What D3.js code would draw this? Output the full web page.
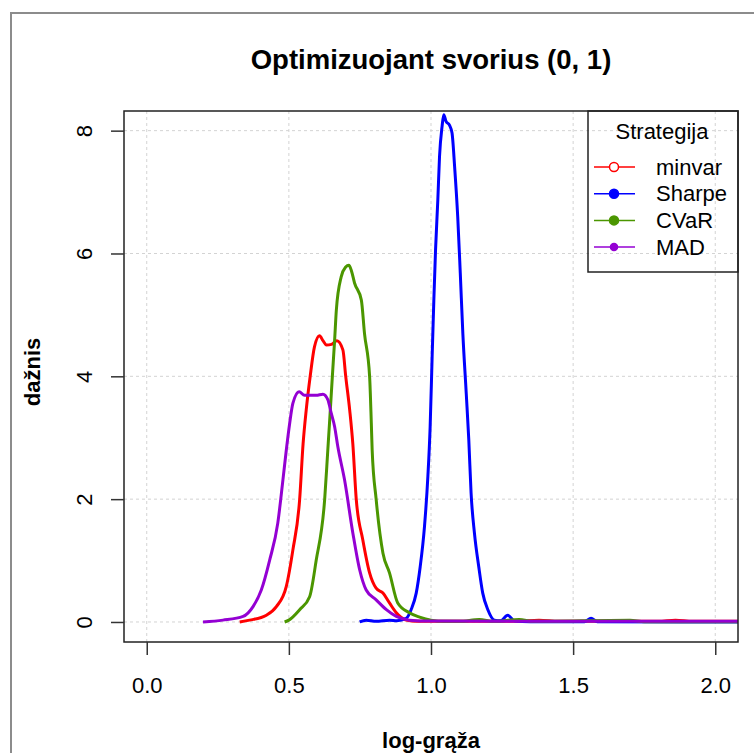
<!DOCTYPE html>
<html>
<head>
<meta charset="utf-8">
<script src="https://cdn.jsdelivr.net/npm/d3@7"></script>
<style>
  body { margin: 0; background: #fff; }
  svg { font-family: "Liberation Sans", Arial, sans-serif; }
</style>
</head>
<body>
<div id="chart-area"></div>
<script>
// density curves
var minvarX = [0.327, 0.362, 0.421, 0.456, 0.491, 0.514, 0.538, 0.55, 0.561, 0.575, 0.59, 0.608, 0.62, 0.632, 0.65, 0.669, 0.69, 0.70, 0.714, 0.725, 0.737, 0.76, 0.784, 0.807, 0.831, 0.854, 0.878, 0.913, 0.95, 1.0, 1.3, 1.38, 1.45, 1.8, 1.86, 1.92, 2.1];
var minvarY = [0, 0.03, 0.11, 0.25, 0.58, 1.17, 2.0, 2.9, 3.45, 4.0, 4.48, 4.66, 4.58, 4.51, 4.52, 4.58, 4.43, 4.0, 3.45, 2.9, 2.0, 1.34, 0.80, 0.55, 0.47, 0.31, 0.15, 0.03, 0.01, 0.01, 0.01, 0.03, 0.01, 0.01, 0.03, 0.01, 0.01];

var sharpeX = [0.749, 0.772, 0.807, 0.854, 0.88, 0.913, 0.93, 0.948, 0.962, 0.977, 0.989, 0.997, 1.004, 1.01, 1.016, 1.024, 1.03, 1.039, 1.045, 1.053, 1.065, 1.074, 1.083, 1.094, 1.103, 1.112, 1.124, 1.133, 1.141, 1.153, 1.168, 1.182, 1.20, 1.223, 1.245, 1.27, 1.293, 1.35, 1.54, 1.563, 1.585, 2.1];
var sharpeY = [0, 0.03, 0.01, 0.03, 0.02, 0.06, 0.2, 0.47, 0.90, 1.55, 2.37, 3.18, 4.32, 5.24, 6.06, 6.87, 7.58, 8.07, 8.26, 8.15, 8.09, 7.96, 7.42, 6.60, 5.68, 4.70, 3.72, 2.96, 2.10, 1.44, 0.90, 0.47, 0.2, 0.03, 0.02, 0.11, 0.02, 0.005, 0.005, 0.06, 0.005, 0];

var cvarX = [0.485, 0.5, 0.538, 0.573, 0.596, 0.626, 0.637, 0.643, 0.653, 0.661, 0.667, 0.684, 0.70, 0.711, 0.72, 0.731, 0.755, 0.766, 0.784, 0.790, 0.793, 0.807, 0.831, 0.854, 0.883, 0.924, 0.96, 1.0, 1.05, 1.1, 1.17, 1.22, 1.31, 1.36, 1.7, 1.75, 2.1];
var cvarY = [0, 0.03, 0.2, 0.41, 1.0, 2.0, 2.8, 3.24, 4.0, 4.59, 5.08, 5.62, 5.78, 5.81, 5.72, 5.52, 5.24, 4.70, 4.0, 3.24, 2.8, 2.0, 1.12, 0.80, 0.31, 0.15, 0.08, 0.03, 0.01, 0.01, 0.04, 0.01, 0.04, 0.01, 0.03, 0.005, 0.005];

var madX = [0.198, 0.268, 0.339, 0.374, 0.403, 0.432, 0.461, 0.479, 0.491, 0.503, 0.514, 0.536, 0.555, 0.596, 0.62, 0.637, 0.649, 0.661, 0.672, 0.696, 0.725, 0.749, 0.772, 0.807, 0.843, 0.878, 0.924, 1.0, 1.5, 2.1];
var madY = [0, 0.03, 0.09, 0.25, 0.52, 1.0, 1.61, 2.31, 2.8, 3.24, 3.56, 3.75, 3.69, 3.69, 3.71, 3.62, 3.40, 3.18, 2.86, 2.31, 1.45, 0.85, 0.52, 0.36, 0.2, 0.09, 0.03, 0.015, 0.01, 0.01];

var strategies = ["minvar", "Sharpe", "CVaR", "MAD"];
var colors = ["#ff0000", "#0000ff", "#4b9600", "#9400d3"];
var xTicks = [0, 0.5, 1, 1.5, 2];
var yTicks = [0, 2, 4, 6, 8];

var series = [
    { name: "minvar", xs: minvarX, ys: minvarY },
    { name: "Sharpe", xs: sharpeX, ys: sharpeY },
    { name: "CVaR", xs: cvarX, ys: cvarY },
    { name: "MAD", xs: madX, ys: madY }
];

var W = 754, H = 753;
var box = { left: 124, right: 738, top: 111, bottom: 642 };

var svg = d3.select("#chart-area")
    .append("svg")
    .attr("width", W)
    .attr("height", H);

// outer frame of the device
svg.append("rect")
    .attr("x", 11).attr("y", 13)
    .attr("width", 800).attr("height", 800)
    .attr("fill", "none")
    .attr("stroke", "#8c8c8c")
    .attr("stroke-width", 2);

var x = d3.scaleLinear().domain([-0.08, 2.08]).range([box.left, box.right]);
var y = d3.scaleLinear().domain([-0.326, 8.32]).range([box.bottom, box.top]);

// grid
svg.append("g").selectAll("line").data(xTicks).enter().append("line")
    .attr("x1", function(d){ return x(d); })
    .attr("x2", function(d){ return x(d); })
    .attr("y1", box.top).attr("y2", box.bottom)
    .attr("stroke", "#d3d3d3").attr("stroke-dasharray", "3,3");
svg.append("g").selectAll("line").data(yTicks).enter().append("line")
    .attr("y1", function(d){ return y(d); })
    .attr("y2", function(d){ return y(d); })
    .attr("x1", box.left).attr("x2", box.right)
    .attr("stroke", "#d3d3d3").attr("stroke-dasharray", "3,3");

// curves
svg.append("clipPath").attr("id", "plot-clip")
    .append("rect")
    .attr("x", box.left).attr("y", box.top)
    .attr("width", box.right - box.left).attr("height", box.bottom - box.top);

var line = d3.line()
    .x(function(d){ return x(d[0]); })
    .y(function(d){ return y(d[1]); })
    .curve(d3.curveMonotoneX);

series.forEach(function(s, i){
    var pts = s.xs.map(function(v, j){ return [v, s.ys[j]]; });
    svg.append("path")
        .attr("d", line(pts))
        .attr("clip-path", "url(#plot-clip)")
        .attr("fill", "none")
        .attr("stroke", colors[i])
        .attr("stroke-width", 3)
        .attr("stroke-linejoin", "round");
});

// plot box
svg.append("rect")
    .attr("x", box.left).attr("y", box.top)
    .attr("width", box.right - box.left).attr("height", box.bottom - box.top)
    .attr("fill", "none").attr("stroke", "#222").attr("stroke-width", 1.5);

// axes, R style
var xAxis = svg.append("g").attr("transform", "translate(0," + box.bottom + ")");
xAxis.call(d3.axisBottom(x).tickValues(xTicks).tickFormat(d3.format(".1f")).tickSize(13).tickSizeOuter(0).tickPadding(22));
xAxis.select(".domain").remove();
xAxis.selectAll("line").attr("stroke", "#333").attr("stroke-width", 1.5);
xAxis.selectAll("text").attr("font-size", "22px").attr("fill", "#000")
    .attr("font-family", "'Liberation Sans', Arial, sans-serif");

var yAxis = svg.append("g").attr("transform", "translate(" + box.left + ",0)");
yAxis.call(d3.axisLeft(y).tickValues(yTicks).tickSize(13).tickSizeOuter(0).tickFormat(d3.format("d")));
yAxis.select(".domain").remove();
yAxis.selectAll("line").attr("stroke", "#333").attr("stroke-width", 1.5);
yAxis.selectAll("text").remove();
yAxis.selectAll(".tick").append("text")
    .attr("transform", "translate(-40,0) rotate(-90)")
    .attr("text-anchor", "middle")
    .attr("dy", "0.35em")
    .attr("font-size", "22px")
    .attr("fill", "#000")
    .attr("font-family", "'Liberation Sans', Arial, sans-serif")
    .text(function(d){ return d; });

// labels
svg.append("text")
    .attr("x", 431).attr("y", 69)
    .attr("text-anchor", "middle")
    .attr("font-size", "27.5px").attr("font-weight", "bold")
    .text("Optimizuojant svorius (0, 1)");

svg.append("text")
    .attr("x", 431).attr("y", 748)
    .attr("text-anchor", "middle")
    .attr("font-size", "22px").attr("font-weight", "bold")
    .text("log-grąža");

svg.append("text")
    .attr("transform", "translate(40,372) rotate(-90)")
    .attr("text-anchor", "middle")
    .attr("font-size", "22px").attr("font-weight", "bold")
    .text("dažnis");

// legend
var legend = svg.append("g");
legend.append("rect")
    .attr("x", 588).attr("y", box.top)
    .attr("width", box.right - 588).attr("height", 272 - box.top)
    .attr("fill", "none").attr("stroke", "#222").attr("stroke-width", 1.5);
legend.append("text")
    .attr("x", 662).attr("y", 139)
    .attr("text-anchor", "middle")
    .attr("font-size", "22px")
    .text("Strategija");

strategies.forEach(function(name, i){
    var row = legend.append("g")
        .attr("transform", "translate(0," + (167 + i * 26.7) + ")");
    row.append("line")
        .attr("x1", 594).attr("x2", 635)
        .attr("stroke", colors[i]).attr("stroke-width", 1.5);
    row.append("circle")
        .attr("cx", 614).attr("cy", 0)
        .attr("r", i == 3 ? 3.5 : 4.5)
        .attr("fill", i == 0 ? "#fff" : colors[i])
        .attr("stroke", colors[i]).attr("stroke-width", 1.5);
    row.append("text")
        .attr("x", 656).attr("y", 0)
        .attr("dy", "0.35em")
        .attr("font-size", "22px")
        .text(name);
});
</script>
</body>
</html>
